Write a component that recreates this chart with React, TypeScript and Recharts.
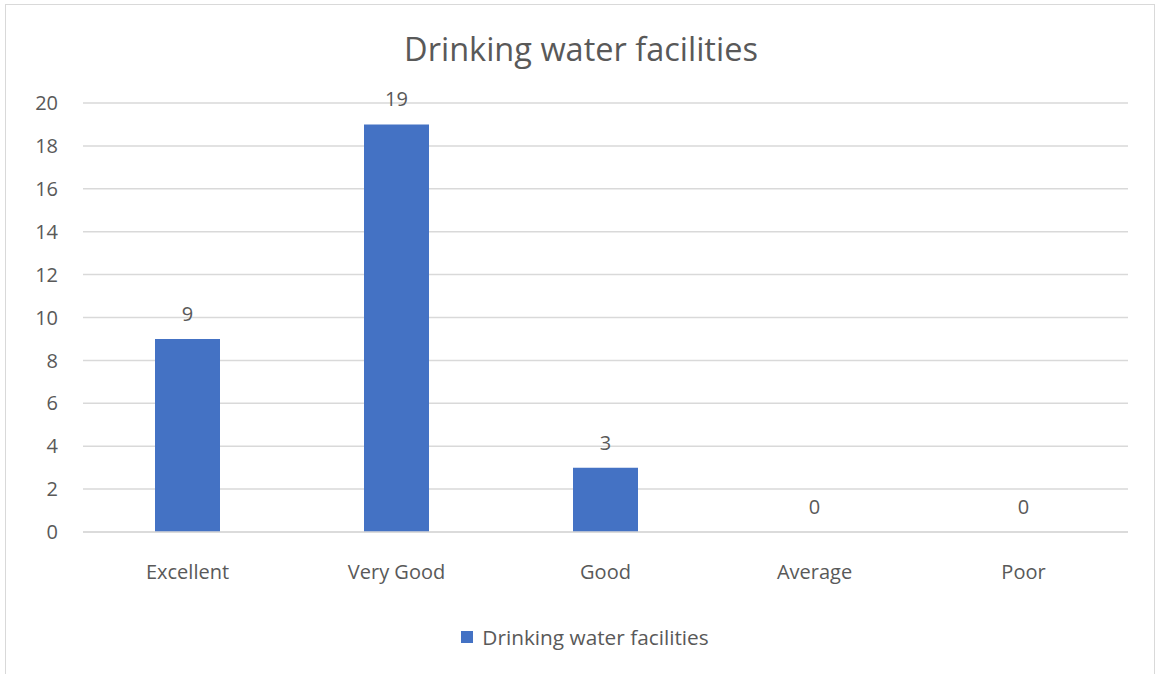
import React from 'react';
import { ComposedChart, Bar, Line, XAxis, YAxis, CartesianGrid, LabelList, Legend } from 'recharts';

const categories = ['Excellent', 'Very Good', 'Good', 'Average', 'Poor'];
const values = [9, 19, 3, 0, 0];
const yTicks = [0, 2, 4, 6, 8, 10, 12, 14, 16, 18, 20];
const seriesName = 'Drinking water facilities';
const title = 'Drinking water facilities';

const data = categories.map((c, i) => ({ name: c, value: values[i] }));

const FONT = '"Open Sans", sans-serif';
const TEXT = '#595959';
const BAR = '#4472C4';

const LegendContent = () => (
  <div style={{ display: 'flex', justifyContent: 'center', alignItems: 'center', fontFamily: FONT, fontSize: 20.8, color: TEXT, paddingLeft: 12 }}>
    <span style={{ display: 'inline-block', width: 12, height: 12, background: BAR, marginRight: 9 }} />
    <span>{seriesName}</span>
  </div>
);

export default function App() {
  return (
    <div style={{ position: 'absolute', left: 0, top: 0, width: 1158, height: 674, overflow: 'hidden', background: '#fff' }}>
      <div style={{ position: 'absolute', left: 5, top: 4, width: 1150, height: 700, border: '1px solid #d9d9d9', boxSizing: 'border-box' }} />
      <div style={{ position: 'absolute', left: 0, top: 26, width: 1162, textAlign: 'center', fontFamily: FONT, fontSize: 32.5, color: TEXT, lineHeight: '46px' }}>
        {title}
      </div>
      <div style={{ position: 'absolute', left: 0, top: 0 }}>
        <ComposedChart width={1158} height={674} data={data} margin={{ top: 103, right: 30, left: 0, bottom: 54 }}>
          <CartesianGrid vertical={false} stroke="#d9d9d9" strokeWidth={1.5} />
          <XAxis
            dataKey="name"
            axisLine={{ stroke: '#d9d9d9', strokeWidth: 1.5 }}
            tickLine={false}
            tickSize={0}
            tickMargin={33}
            height={60}
            tick={{ fill: TEXT, fontSize: 20, fontFamily: FONT }}
          />
          <YAxis
            domain={[0, 20]}
            ticks={yTicks}
            interval={0}
            axisLine={false}
            tickLine={false}
            tickSize={0}
            tickMargin={25}
            width={83}
            tick={{ fill: TEXT, fontSize: 20, fontFamily: FONT }}
          />
          <Legend verticalAlign="bottom" content={<LegendContent />} wrapperStyle={{ top: 623, left: 0, width: 1158 }} />
          <Bar dataKey="value" name={seriesName} fill={BAR} barSize={65} isAnimationActive={false} />
          <Line dataKey="value" stroke="none" dot={false} activeDot={false} legendType="none" isAnimationActive={false}>
            <LabelList dataKey="value" position="top" offset={18} fill={TEXT} fontSize={20} fontFamily={FONT} />
          </Line>
        </ComposedChart>
      </div>
    </div>
  );
}
